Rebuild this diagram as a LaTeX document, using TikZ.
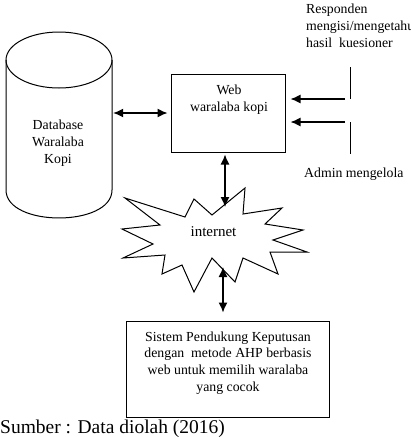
\documentclass[tikz,border=0pt]{standalone}
\usepackage{fontspec}
\setmainfont{Liberation Serif}
\usetikzlibrary{arrows.meta}
\newcommand\myfs{\fontsize{13.8}{16.7}\selectfont}
\begin{document}
\begin{tikzpicture}[x=1pt,y=-1pt,
  outline/.style={draw, line width=1pt},
  biarrow/.style={{Latex[length=10pt,width=9pt]}-{Latex[length=10pt,width=9pt]}, line width=1.3pt},
  onearrow/.style={-{Latex[length=10pt,width=9pt]}, line width=1.3pt},
  txt/.style={font=\myfs, inner sep=0pt, align=center}]
\useasboundingbox (0,0) rectangle (411,437);

% cylinder (database)
\draw[line width=1pt] (59,60) ellipse [x radius=53, y radius=28];
\draw[line width=1pt] (6,60) -- (6,190) .. controls (6,227.3) and (112,227.3) .. (112,190) -- (112,60);
\node[inner sep=0pt, minimum width=106pt, minimum height=130pt] (db) at (59,125) {};
\node[txt] (dbtext) at (58,143) {Database\\Waralaba\\Kopi};

% web box
\node[outline, minimum width=114pt, minimum height=78pt, inner sep=0pt] (web) at (228,113) {};
\node[txt] (webtext) at (229,100) {Web\\waralaba kopi};

% actors
\draw[line width=1pt] (350,67) -- (350,99);
\draw[line width=1pt] (350,122) -- (350,154);
\coordinate (r1) at (345,99);
\coordinate (r2) at (345,122);
\node[txt, align=left, anchor=north west] (resp) at (306,4) {Responden\\mengisi/mengetahui\\hasil\ \ kuesioner};
\node[font=\myfs, inner sep=0pt, anchor=base west] (admin) at (304,177) {Admin mengelola};

% internet star
\draw[line width=1pt, fill=white]
  (125,198) -- (185,217) -- (194,199) -- (212,215) -- (245,188) -- (243,214)
  -- (282,208) -- (265,224) -- (303,230) -- (273,240) -- (307,252) -- (270,252)
  -- (278,274) -- (243,258) -- (235,282) -- (212,258) -- (194,292) -- (182,265)
  -- (162,274) -- (165,255) -- (123,258) -- (153,244) -- (122,229) -- (160,225) -- cycle;
\node[font=\fontsize{15}{18}\selectfont, inner sep=0pt] (net) at (213.5,232) {internet};
\coordinate (nettop) at (225,207);
\coordinate (netbot) at (223,267);

% DSS box
\node[outline, minimum width=203pt, minimum height=96pt, inner sep=0pt] (dss) at (227.5,369) {};
\node[txt] (dsstext) at (228,363) {Sistem Pendukung Keputusan\\dengan\ \ metode AHP berbasis\\web untuk memilih waralaba\\yang cocok};

% connectors
\draw[biarrow, shorten <=1pt, shorten >=3pt] (db.east |- web.west) -- (web.west);
\draw[onearrow, shorten >=5pt] (r1) -- (web.east |- r1);
\draw[onearrow, shorten >=5pt] (r2) -- (web.east |- r2);
\draw[biarrow, shorten <=2pt] ([xshift=-3pt]web.south) -- (nettop);
\draw[biarrow, shorten >=8pt] (netbot) -- (dss.north -| netbot);

% caption
\node[font=\fontsize{19.5}{23}\selectfont, inner sep=0pt, anchor=base west] (src) at (0,433) {Sumber : Data diolah (2016)};
\end{tikzpicture}
\end{document}
